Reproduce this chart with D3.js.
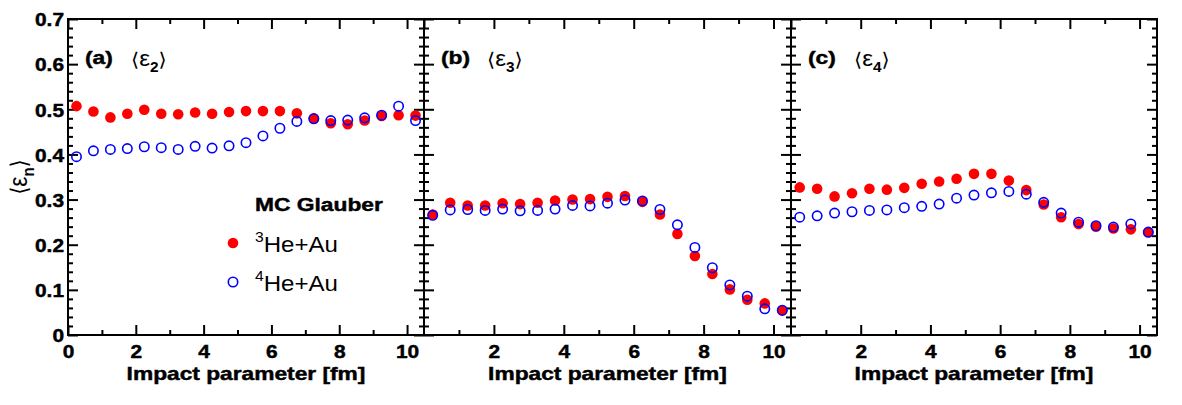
<!DOCTYPE html>
<html>
<head>
<meta charset="utf-8">
<script src="https://cdn.jsdelivr.net/npm/d3@7"></script>
<style>
  body { margin: 0; background: #fff; }
  svg text { font-family: "Liberation Sans", Arial, Helvetica, sans-serif; fill: #000; }
</style>
</head>
<body>
<div id="chart"></div>
<script>
// bin centres of the impact parameter [fm]
const impactParam = [0.25, 0.75, 1.25, 1.75, 2.25, 2.75, 3.25, 3.75, 4.25, 4.75, 5.25,
  5.75, 6.25, 6.75, 7.25, 7.75, 8.25, 8.75, 9.25, 9.75, 10.25];

// <eps_2>
const he3Eps2 = [0.507, 0.495, 0.482, 0.490, 0.499, 0.490, 0.489, 0.493, 0.490, 0.494, 0.496,
  0.496, 0.496, 0.491, 0.480, 0.469, 0.467, 0.475, 0.485, 0.487, 0.486];
const he4Eps2 = [0.395, 0.408, 0.411, 0.413, 0.417, 0.415, 0.411, 0.418, 0.414, 0.419, 0.426,
  0.441, 0.458, 0.473, 0.479, 0.475, 0.476, 0.481, 0.487, 0.507, 0.475];

// <eps_3>
const he3Eps3 = [0.267, 0.293, 0.287, 0.287, 0.292, 0.290, 0.293, 0.298, 0.300, 0.301, 0.306,
  0.308, 0.295, 0.267, 0.224, 0.175, 0.135, 0.101, 0.078, 0.070, 0.054];
const he4Eps3 = [0.265, 0.277, 0.278, 0.276, 0.279, 0.275, 0.276, 0.279, 0.287, 0.286, 0.292,
  0.299, 0.297, 0.278, 0.244, 0.194, 0.149, 0.111, 0.086, 0.058, 0.055];

// <eps_4>
const he3Eps4 = [0.327, 0.324, 0.307, 0.314, 0.324, 0.322, 0.326, 0.335, 0.340, 0.346, 0.357,
  0.357, 0.342, 0.321, 0.289, 0.261, 0.246, 0.240, 0.236, 0.234, 0.227];
const he4Eps4 = [0.261, 0.264, 0.270, 0.273, 0.276, 0.277, 0.282, 0.285, 0.290, 0.303, 0.310,
  0.315, 0.318, 0.312, 0.294, 0.270, 0.250, 0.242, 0.239, 0.246, 0.228];

const xMajorTicks = [0, 2, 4, 6, 8, 10];
const xMinorTicks = [1, 3, 5, 7, 9];
const yMajorTicks = [0, 0.1, 0.2, 0.3, 0.4, 0.5, 0.6, 0.7];
const yMinorTicks = [0.02, 0.04, 0.06, 0.08, 0.12, 0.14, 0.16, 0.18, 0.22, 0.24, 0.26, 0.28,
  0.32, 0.34, 0.36, 0.38, 0.42, 0.44, 0.46, 0.48, 0.52, 0.54, 0.56, 0.58, 0.62, 0.64, 0.66, 0.68];

const panelLabels = ["(a)", "(b)", "(c)"];
const harmonics = ["2", "3", "4"];
const systems = ["3", "4"]; // 3He+Au, 4He+Au
const he3Series = [he3Eps2, he3Eps3, he3Eps4];
const he4Series = [he4Eps2, he4Eps3, he4Eps4];

const width = 1182;
const height = 405;
const SX = 1.2; // the picture is slightly stretched horizontally
const plotTop = 19;
const plotBottom = 335;
const panelEdges = [[68, 424], [424, 791], [791, 1157]];
const red = "#ff0000";
const blue = "#0000ff";

const svg = d3.select("#chart")
  .append("svg")
  .attr("width", width)
  .attr("height", height);

const y = d3.scaleLinear().domain([0, 0.7]).range([plotBottom, plotTop]);

function stretched(g, x, yy, anchor, sx = SX) {
  return g.append("text")
    .attr("transform", `translate(${x},${yy}) scale(${sx},1)`)
    .attr("text-anchor", anchor);
}

// ROOT's bold Helvetica looks a bit heavier than Liberation Sans Bold
function heavy(sel, size) {
  sel.style("font-size", size)
    .style("font-weight", "bold")
    .attr("stroke", "#000")
    .attr("stroke-width", 0.45);
}

function styleAxis(g) {
  g.select(".domain").remove();
  g.selectAll("line").attr("stroke", "#000").attr("stroke-width", 2);
}

function styleTickText(sel, tx, ty) {
  sel.attr("transform", `translate(${tx},${ty}) scale(1.16,1)`)
    .style("font-family", "Liberation Sans, Arial, sans-serif")
    .attr("fill", "#000")
    .call(heavy, "18px");
}

panelEdges.forEach(([x0, x1], p) => {
  const x = d3.scaleLinear().domain([0, 10.5]).range([x0, x1]);
  const g = svg.append("g");

  // ticks on all four sides, pointing inwards
  g.append("g").attr("transform", `translate(0,${plotBottom})`)
    .call(d3.axisBottom(x).tickValues(xMinorTicks).tickSize(-5).tickSizeOuter(0).tickFormat(""))
    .call(styleAxis);
  const xAxis = g.append("g").attr("transform", `translate(0,${plotBottom})`)
    .call(d3.axisBottom(x).tickValues(p === 0 ? xMajorTicks : xMajorTicks.slice(1))
      .tickSize(-10).tickSizeOuter(0))
    .call(styleAxis);
  xAxis.selectAll("text").attr("y", null).attr("dy", null).call(styleTickText, 0, 23);

  g.append("g").attr("transform", `translate(0,${plotTop})`)
    .call(d3.axisTop(x).tickValues(xMinorTicks).tickSize(-5).tickSizeOuter(0).tickFormat(""))
    .call(styleAxis);
  g.append("g").attr("transform", `translate(0,${plotTop})`)
    .call(d3.axisTop(x).tickValues(xMajorTicks).tickSize(-10).tickSizeOuter(0).tickFormat(""))
    .call(styleAxis);

  g.append("g").attr("transform", `translate(${x0},0)`)
    .call(d3.axisLeft(y).tickValues(yMinorTicks).tickSize(-5).tickSizeOuter(0).tickFormat(""))
    .call(styleAxis);
  const yAxis = g.append("g").attr("transform", `translate(${x0},0)`)
    .call(d3.axisLeft(y).tickValues(yMajorTicks).tickSize(-10).tickSizeOuter(0)
      .tickFormat(p === 0 ? (d) => (d === 0 ? "0" : d3.format(".1f")(d)) : ""))
    .call(styleAxis);
  yAxis.selectAll("text").attr("x", null).call(styleTickText, -4, 1);

  g.append("g").attr("transform", `translate(${x1},0)`)
    .call(d3.axisRight(y).tickValues(yMinorTicks).tickSize(-5).tickSizeOuter(0).tickFormat(""))
    .call(styleAxis);
  g.append("g").attr("transform", `translate(${x1},0)`)
    .call(d3.axisRight(y).tickValues(yMajorTicks).tickSize(-10).tickSizeOuter(0).tickFormat(""))
    .call(styleAxis);

  // frame
  g.append("rect")
    .attr("x", x0).attr("y", plotTop)
    .attr("width", x1 - x0).attr("height", plotBottom - plotTop)
    .attr("fill", "none").attr("stroke", "#000").attr("stroke-width", 2);

  // 3He+Au: filled red circles
  g.selectAll(".he3")
    .data(impactParam)
    .enter()
    .append("circle")
    .attr("class", "he3")
    .attr("cx", (d) => x(d))
    .attr("cy", (d, i) => y(he3Series[p][i]))
    .attr("r", 5.3)
    .attr("fill", red);

  // 4He+Au: open blue circles
  g.selectAll(".he4")
    .data(impactParam)
    .enter()
    .append("circle")
    .attr("class", "he4")
    .attr("cx", (d) => x(d))
    .attr("cy", (d, i) => y(he4Series[p][i]))
    .attr("r", 4.7)
    .attr("fill", "none")
    .attr("stroke", blue)
    .attr("stroke-width", 1.6);

  // axis title
  stretched(g, (x0 + x1) / 2, 380, "middle", 1.23)
    .call(heavy, "18.5px")
    .text("Impact parameter [fm]");

  // panel label
  stretched(g, x0 + 17, 64, "start")
    .call(heavy, "19px")
    .text(panelLabels[p]);

  const eps = stretched(g, x0 + 63, 66, "start", 1.1).style("font-size", "22px");
  eps.append("tspan").style("font-family", "DejaVu Sans").style("font-size", "19px").text("\u27E8");
  eps.append("tspan").text("\u03B5");
  eps.append("tspan").attr("dy", 6).style("font-size", "14px").style("font-weight", "bold")
    .text(harmonics[p]);
  eps.append("tspan").attr("dy", -6).style("font-family", "DejaVu Sans").style("font-size", "19px")
    .text("\u27E9");
});

// y axis title
const yTitle = svg.append("text")
  .attr("transform", `translate(27,177) scale(1.15,1) rotate(-90)`)
  .attr("text-anchor", "middle")
  .style("font-size", "23px");
yTitle.append("tspan").style("font-family", "DejaVu Sans").style("font-size", "20px").text("\u27E8");
yTitle.append("tspan").text("\u03B5");
yTitle.append("tspan").attr("dy", 6).style("font-size", "15px").style("font-weight", "bold").text("n");
yTitle.append("tspan").attr("dy", -6).style("font-family", "DejaVu Sans").style("font-size", "20px")
  .text("\u27E9");

// legend
const legend = svg.append("g");
stretched(legend, 255, 211, "start")
  .call(heavy, "19px")
  .text("MC Glauber");

systems.forEach((s, i) => {
  const ly = 243 + i * 39;
  const marker = legend.append("circle").attr("cx", 233).attr("cy", ly);
  if (i === 0) {
    marker.attr("r", 5.3).attr("fill", red);
  } else {
    marker.attr("r", 4.7).attr("fill", "none").attr("stroke", blue).attr("stroke-width", 1.6);
  }
  const t = stretched(legend, 255, ly + 9, "start", 1.12).style("font-size", "21.5px");
  t.append("tspan").attr("dy", -10).style("font-size", "14px").text(s);
  t.append("tspan").attr("dy", 10).text("He+Au");
});
</script>
</body>
</html>
